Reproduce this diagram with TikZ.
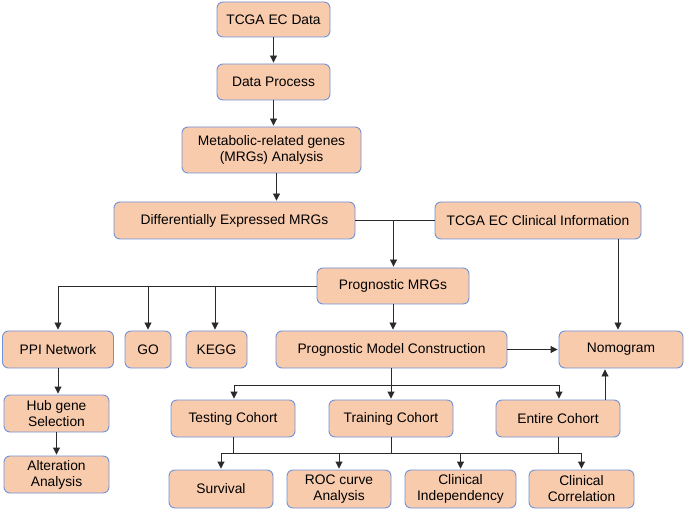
\documentclass[tikz,border=0pt]{standalone}
\usepackage{fontspec}
\setmainfont{Liberation Sans}
\usetikzlibrary{arrows.meta}
\definecolor{boxfill}{HTML}{F8CBAD}
\definecolor{boxdraw}{HTML}{7092D8}
\definecolor{linec}{HTML}{2A2A2A}
\tikzset{
  box/.style={draw=boxdraw, line width=0.9pt, fill=boxfill, rounded corners=6pt,
    align=center, inner sep=0pt, font=\fontsize{13.8}{16}\selectfont},
  conn/.style={draw=linec, line width=0.9pt},
  arr/.style={conn, -{Triangle[length=7pt,width=7pt]}, shorten >=1pt},
}
\newcommand{\bx}[6]{\node[box, minimum width=#4pt, minimum height=#5pt] (#1) at (#2,#3) {#6};}
\begin{document}
\begin{tikzpicture}[x=1pt,y=-1pt]
\useasboundingbox (0,0) rectangle (685,510);
\bx{data}{273.5}{19.5}{113}{35}{TCGA EC Data}
\bx{proc}{273.5}{82}{113}{36}{Data Process}
\bx{mrg}{271.5}{150}{179}{46}{Metabolic-related genes\\(MRGs) Analysis}
\bx{dem}{234.5}{220.5}{241}{37}{Differentially Expressed MRGs}
\bx{clin}{538}{220.5}{206}{37}{TCGA EC Clinical Information}
\bx{pmrg}{393}{286}{152}{36}{Prognostic MRGs}
\bx{ppi}{58}{349.5}{111}{37}{PPI Network}
\bx{go}{148}{349.5}{46}{37}{GO}
\bx{kegg}{216.5}{349.5}{61}{37}{KEGG}
\bx{pmc}{391.5}{349.5}{231}{37}{Prognostic Model Construction}
\bx{nomo}{621}{349.5}{124}{37}{Nomogram}
\bx{hub}{56.5}{413.5}{105}{37}{Hub gene\\Selection}
\bx{alt}{56.5}{474.5}{105}{37}{Alteration\\Analysis}
\bx{test}{233}{418.5}{124}{37}{Testing Cohort}
\bx{train}{391}{418.5}{124}{37}{Training Cohort}
\bx{entire}{558}{418.5}{124}{37}{Entire Cohort}
\bx{surv}{221}{489}{104}{38}{Survival}
\bx{roc}{339}{489}{104}{38}{ROC curve\\Analysis}
\bx{cind}{460.5}{489}{111}{38}{Clinical\\Independency}
\bx{ccor}{581.5}{489}{105}{38}{Clinical\\Correlation}
% top chain
\draw[arr] (data.south) -- (proc.north);
\draw[arr] (proc.south) -- (proc.south |- mrg.north);
\draw[arr] ([xshift=5pt]mrg.south) -- ([xshift=5pt]mrg.south |- dem.north);
% merge of DEMRGs and clinical info
\coordinate (j1) at (393.5,220.5);
\draw[conn] (dem.east) -- (clin.west);
\draw[arr] (j1) -- (j1 |- pmrg.north);
\draw[arr] ([xshift=80pt]clin.south) -- ([xshift=80pt]clin.south |- nomo.north);
% prognostic MRGs branches
\draw[arr] (pmrg.west) -| (ppi.north);
\draw[arr] (go.north |- pmrg.west) -- (go.north);
\draw[arr] ([xshift=-1.5pt]kegg.north |- pmrg.west) -- ([xshift=-1.5pt]kegg.north);
\draw[arr] (pmrg.south) -- (pmrg.south |- pmc.north);
\draw[arr] (pmc.east) -- (nomo.west);
% left column
\draw[arr] (ppi.south) -- (ppi.south |- hub.north);
\draw[arr] (hub.south) -- (alt.north);
% cohorts
\coordinate (bus1) at (0,385);
\draw[conn] (pmc.south) -- (pmc.south |- bus1);
\draw[conn] ([xshift=1pt]test.north |- bus1) -- ([xshift=1pt]entire.north |- bus1);
\draw[arr] ([xshift=1pt]test.north |- bus1) -- ([xshift=1pt]test.north);
\draw[arr] (train.north |- bus1) -- (train.north);
\draw[arr] ([xshift=1pt]entire.north |- bus1) -- ([xshift=1pt]entire.north);
\draw[arr] ([xshift=47pt]entire.north) -- ([xshift=47pt]entire.north |- nomo.south);
% outcomes
\coordinate (bus2) at (0,453);
\draw[conn] (test.south) -- (test.south |- bus2);
\draw[conn] (train.south) -- (train.south |- bus2);
\draw[conn] (entire.south) -- (entire.south |- bus2);
\draw[conn] (surv.north |- bus2) -- (ccor.north |- bus2);
\draw[arr] (surv.north |- bus2) -- (surv.north);
\draw[arr] (roc.north |- bus2) -- (roc.north);
\draw[arr] (cind.north |- bus2) -- (cind.north);
\draw[arr] (ccor.north |- bus2) -- (ccor.north);
\end{tikzpicture}
\end{document}
